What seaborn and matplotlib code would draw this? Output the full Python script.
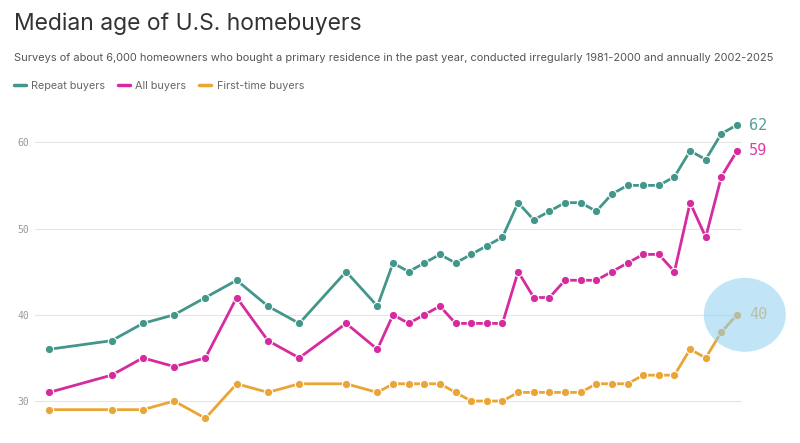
import seaborn as sns
import pandas as pd
import matplotlib.pyplot as plt
from matplotlib.patches import Ellipse
from matplotlib.lines import Line2D

years = [1981, 1985, 1987, 1989, 1991, 1993, 1995, 1997, 2000,
         2002, 2003, 2004, 2005, 2006, 2007, 2008, 2009, 2010, 2011,
         2012, 2013, 2014, 2015, 2016, 2017, 2018, 2019, 2020, 2021,
         2022, 2023, 2024, 2025]
repeat_buyers = [36, 37, 39, 40, 42, 44, 41, 39, 45,
                 41, 46, 45, 46, 47, 46, 47, 48, 49, 53,
                 51, 52, 53, 53, 52, 54, 55, 55, 55, 56,
                 59, 58, 61, 62]
all_buyers = [31, 33, 35, 34, 35, 42, 37, 35, 39,
              36, 40, 39, 40, 41, 39, 39, 39, 39, 45,
              42, 42, 44, 44, 44, 45, 46, 47, 47, 45,
              53, 49, 56, 59]
first_time = [29, 29, 29, 30, 28, 32, 31, 32, 32,
              31, 32, 32, 32, 32, 31, 30, 30, 30, 31,
              31, 31, 31, 31, 32, 32, 32, 33, 33, 33,
              36, 35, 38, 40]

series = ["Repeat buyers", "All buyers", "First-time buyers"]
colors = {"Repeat buyers": "#42968a", "All buyers": "#d62b9f", "First-time buyers": "#e9a535"}
yticks = [30, 40, 50, 60]


def build_frame() -> pd.DataFrame:
    parts = []
    for name, vals in zip(series, [repeat_buyers, all_buyers, first_time]):
        parts.append(pd.DataFrame({"year": years, "age": vals, "group": name}))
    return pd.concat(parts, ignore_index=True)


def main():
    df = build_frame()
    sns.set_theme(style="white")
    plt.rcParams["font.family"] = ["Inter", "DejaVu Sans"]

    fig = plt.figure(figsize=(8, 4.43), dpi=100)
    ax = fig.add_axes([0.04375, 0.018, 0.88375, 0.729])

    sns.lineplot(data=df, x="year", y="age", hue="group", palette=colors,
                 marker="o", markersize=6, markeredgecolor="white",
                 markeredgewidth=0.8, linewidth=2, legend=False, ax=ax, zorder=3)

    ax.set_xlim(1980.1, 2025.32)
    ax.set_ylim(26.06, 63.5)
    ax.set_yticks(yticks)
    ax.set_yticklabels([str(t) for t in yticks], family="DejaVu Sans Mono",
                       fontsize=7, color="#999999")
    ax.tick_params(axis="y", length=0, pad=4)
    ax.set_xticks([])
    ax.set_xlabel("")
    ax.set_ylabel("")
    for s in ax.spines.values():
        s.set_visible(False)
    for t in yticks:
        ax.axhline(t, color="#e6e6e6", linewidth=0.8, zorder=1)

    # end labels
    for name, vals in zip(series, [repeat_buyers, all_buyers, first_time]):
        ax.text(years[-1] + 0.75, vals[-1], str(vals[-1]), color=colors[name],
                family="DejaVu Sans Mono", fontsize=11, va="center", ha="left",
                clip_on=False, zorder=4, alpha=0.9)

    # highlight circle over the latest first-time value
    circle = Ellipse((2025.5, 40), width=82 / 15.636, height=74 / 8.633,
                     facecolor="#8fd0f0", alpha=0.55, edgecolor="none",
                     clip_on=False, zorder=5)
    ax.add_patch(circle)

    fig.text(0.0175, 0.932, "Median age of U.S. homebuyers", fontsize=16.5,
             color="#333333", ha="left", va="baseline")
    fig.text(0.0175, 0.862,
             "Surveys of about 6,000 homeowners who bought a primary residence in the past year, "
             "conducted irregularly 1981-2000 and annually 2002-2025",
             fontsize=7.95, color="#555555", ha="left", va="baseline")

    handles = [Line2D([0], [0], color=colors[n], linewidth=2.5) for n in series]
    fig.legend(handles, series, loc="center left", bbox_to_anchor=(0.005, 0.806),
               ncol=3, frameon=False, handlelength=1.1, handletextpad=0.5,
               columnspacing=1.2, prop={"size": 7.8}, labelcolor="#666666")

    fig.savefig("out.png", dpi=100, facecolor="white")


if __name__ == "__main__":
    main()
